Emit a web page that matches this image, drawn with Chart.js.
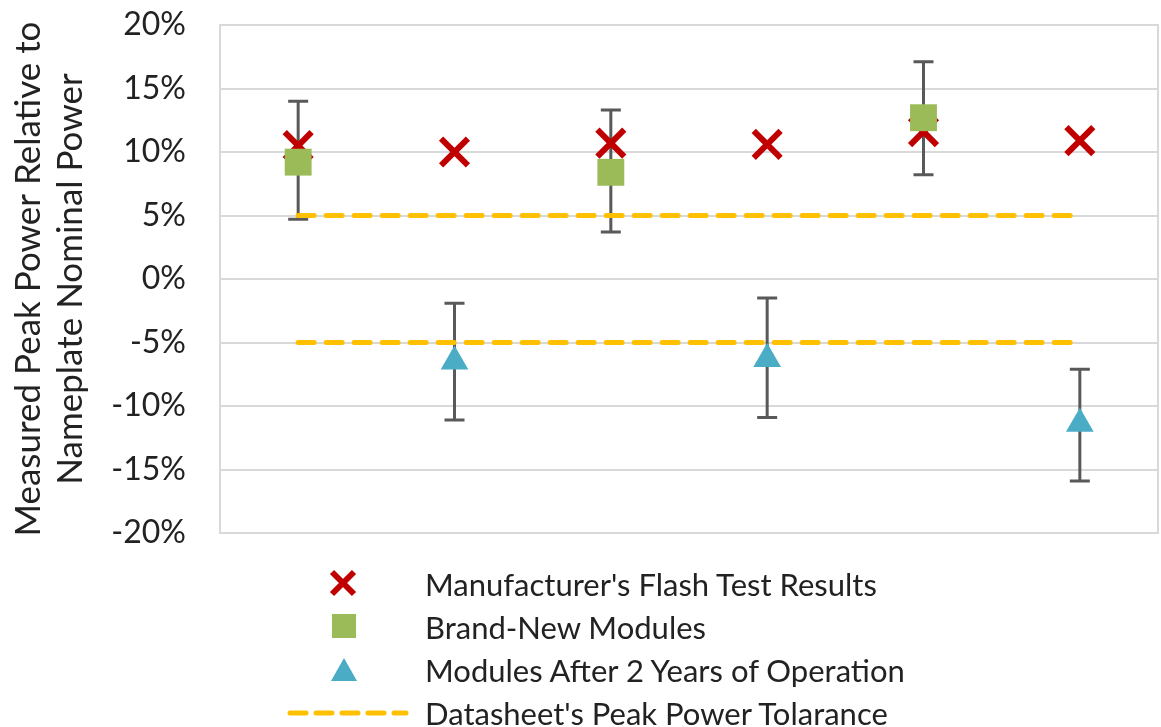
<!DOCTYPE html>
<html>
<head>
<meta charset="utf-8">
<script src="https://cdn.jsdelivr.net/npm/chart.js@4.4.1/dist/chart.umd.min.js"></script>
<style>
  body { margin: 0; background: #fff; font-family: Lato, sans-serif; }
  #wrap { position: relative; width: 1161px; height: 727px; }
  #legend { position: absolute; left: 280px; top: 562px; font-size: 31px; color: #222; }
  #legend .row { display: flex; align-items: center; height: 43px; }
  #legend svg { width: 130px; height: 40px; flex: none; margin-right: 15px; }
</style>
</head>
<body>
<div id="wrap">
  <canvas id="myChart"></canvas>
  <div id="legend"></div>
</div>
<script>
const categories = ['1', '2', '3', '4', '5', '6'];
const yTicks = [-20, -15, -10, -5, 0, 5, 10, 15, 20];

const flashTest = [10.5, 10.0, 10.7, 10.6, 11.6, 10.9];
const brandNew = [9.2, null, 8.4, null, 12.7, null];
const brandNewLow = [4.7, null, 3.7, null, 8.2, null];
const brandNewHigh = [14.0, null, 13.3, null, 17.1, null];
const afterTwoYears = [null, -6.5, null, -6.3, null, -11.4];
const afterTwoYearsLow = [null, -11.1, null, -10.9, null, -15.9];
const afterTwoYearsHigh = [null, -1.9, null, -1.5, null, -7.1];
const toleranceUpper = [5, 5, 5, 5, 5, 5];
const toleranceLower = [-5, -5, -5, -5, -5, -5];

const labels = {
  flash: "Manufacturer's Flash Test Results",
  brandNew: 'Brand-New Modules',
  after: 'Modules After 2 Years of Operation',
  tolerance: "Datasheet's Peak Power Tolarance"
};

const RED = '#C00000', GREEN = '#9BBB59', BLUE = '#4BACC6', GOLD = '#FFC000', ERR = '#595959';

// error bars drawn through the y scale, under the markers
const errorBars = {
  id: 'errorBars',
  beforeDatasetsDraw(chart) {
    const { ctx, scales: { x, y }, chartArea } = chart;
    ctx.save();
    ctx.strokeStyle = '#D9D9D9';
    ctx.lineWidth = 2;
    ctx.strokeRect(chartArea.left, chartArea.top, chartArea.right - chartArea.left, chartArea.bottom - chartArea.top);
    ctx.strokeStyle = ERR;
    ctx.lineWidth = 3;
    const sets = [[brandNewLow, brandNewHigh], [afterTwoYearsLow, afterTwoYearsHigh]];
    sets.forEach(([low, high]) => {
      low.forEach((lo, i) => {
        if (lo === null) return;
        const px = x.getPixelForValue(i);
        const y1 = y.getPixelForValue(lo);
        const y2 = y.getPixelForValue(high[i]);
        ctx.beginPath();
        ctx.moveTo(px, y1); ctx.lineTo(px, y2);
        ctx.moveTo(px - 10, y1); ctx.lineTo(px + 10, y1);
        ctx.moveTo(px - 10, y2); ctx.lineTo(px + 10, y2);
        ctx.stroke();
      });
    });
    ctx.restore();
  }
};

const ctx = document.getElementById('myChart').getContext('2d');
const dashed = (data) => ({
  type: 'line', label: labels.tolerance, data,
  borderColor: GOLD, borderWidth: 5, borderDash: [16, 12], borderCapStyle: 'round',
  pointRadius: 0, fill: false, order: 5
});

const chart = new Chart(ctx, {
  type: 'line',
  data: {
    labels: categories,
    datasets: [
      { label: labels.brandNew, data: brandNew, showLine: false, pointStyle: 'rect',
        pointRadius: 19, pointBackgroundColor: GREEN, pointBorderColor: GREEN, pointBorderWidth: 0, order: 1 },
      { label: labels.after, data: afterTwoYears, showLine: false, pointStyle: 'triangle',
        pointRadius: 16, pointBackgroundColor: BLUE, pointBorderColor: BLUE, pointBorderWidth: 0, order: 2 },
      { label: labels.flash, data: flashTest, showLine: false, pointStyle: 'crossRot',
        pointRadius: 19, pointBorderColor: RED, pointBackgroundColor: RED, pointBorderWidth: 6, order: 3 },
      dashed(toleranceUpper),
      dashed(toleranceLower)
    ]
  },
  options: {
    responsive: true,
    maintainAspectRatio: false,
    animation: false,
    layout: { autoPadding: false, padding: { top: 25, right: 3, bottom: 194, left: 0 } },
    plugins: { legend: { display: false }, tooltip: { enabled: false } },
    scales: {
      x: { offset: true, display: false, grid: { display: false } },
      y: {
        min: -20, max: 20,
        afterBuildTicks: (axis) => { axis.ticks = yTicks.map(v => ({ value: v })); },
        afterFit: (axis) => { axis.width = 220; axis.paddingTop = 0; axis.paddingBottom = 0; },
        ticks: { callback: v => v + '%', color: '#222', font: { family: 'Lato', size: 32 }, padding: 34 },
        grid: { color: '#D9D9D9', lineWidth: 2, drawTicks: false },
        border: { display: true, color: '#D9D9D9', width: 2 },
        title: {
          display: true,
          text: ['Measured Peak Power Relative to', 'Nameplate Nominal Power'],
          color: '#222', font: { family: 'Lato', size: 35 }, lineHeight: 1.33, padding: { top: 8, bottom: 0 }
        }
      }
    }
  },
  plugins: [errorBars]
});

// HTML legend, one entry per row
const legendItems = [
  { text: labels.flash, svg: '<line x1="52" y1="8" x2="74" y2="30" stroke="' + RED + '" stroke-width="6"/><line x1="74" y1="8" x2="52" y2="30" stroke="' + RED + '" stroke-width="6"/>' },
  { text: labels.brandNew, svg: '<rect x="52" y="7" width="24" height="24" fill="' + GREEN + '"/>' },
  { text: labels.after, svg: '<polygon points="64,8 77,31 51,31" fill="' + BLUE + '"/>' },
  { text: labels.tolerance, svg: '<line x1="10" y1="20" x2="126" y2="20" stroke="' + GOLD + '" stroke-width="5" stroke-dasharray="16 10" stroke-linecap="round"/>' }
];
document.getElementById('legend').innerHTML = legendItems.map(it =>
  '<div class="row"><svg viewBox="0 0 130 40">' + it.svg + '</svg><span>' + it.text + '</span></div>'
).join('');
</script>
</body>
</html>
